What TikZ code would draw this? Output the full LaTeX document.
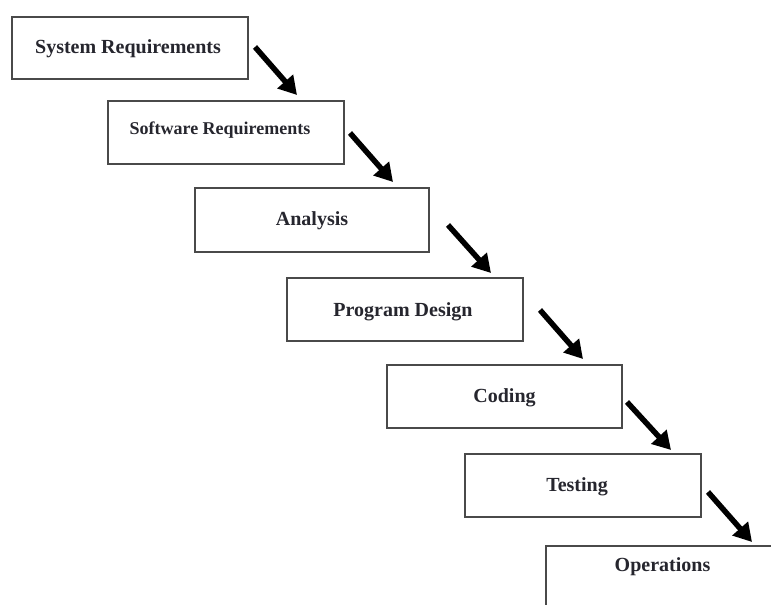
\documentclass[tikz,border=0pt]{standalone}
\usepackage{fontspec}
\setmainfont{Liberation Serif}
\usetikzlibrary{arrows.meta}

\definecolor{boxline}{HTML}{4A4A4A}
\definecolor{inkdark}{HTML}{26262E}

\tikzset{
  stagebox/.style={draw=boxline, line width=1.4pt, rectangle, inner sep=0pt, outer sep=0pt},
  stagetext/.style={inner sep=0pt, text=inkdark, font=\fontsize{20}{22}\selectfont\bfseries},
  flowarrow/.style={line width=5.5pt, -{Triangle[length=18pt,width=20pt]}, black}
}

\begin{document}
\begin{tikzpicture}[x=1pt,y=1pt]
  \fill[white] (0,0) rectangle (771,605);
  \useasboundingbox (0,0) rectangle (771,605);
  \clip (0,0) rectangle (771,605);

  % stage boxes, stepping down to the right
  \node[stagebox, minimum width=236pt, minimum height=62pt] (s1) at (130,557) {};
  \node[stagebox, minimum width=236pt, minimum height=63pt] (s2) at (226,472.5) {};
  \node[stagebox, minimum width=234pt, minimum height=64pt] (s3) at (312,385) {};
  \node[stagebox, minimum width=236pt, minimum height=63pt] (s4) at (405,295.5) {};
  \node[stagebox, minimum width=235pt, minimum height=63pt] (s5) at (504.5,208.5) {};
  \node[stagebox, minimum width=236pt, minimum height=63pt] (s6) at (583,119.5) {};
  \node[stagebox, minimum width=254pt, minimum height=63pt] (s7) at (673,27.5) {};

  % stage names
  \node[stagetext] (t1) at ([xshift=-2pt,yshift=-1pt]s1.center) {System Requirements};
  \node[stagetext, font=\fontsize{18}{20}\selectfont\bfseries] (t2) at ([xshift=-6pt,yshift=2pt]s2.center) {Software Requirements};
  \node[stagetext] (t3) at ([yshift=-1pt]s3.center) {Analysis};
  \node[stagetext] (t4) at ([xshift=-2pt,yshift=-2pt]s4.center) {Program Design};
  \node[stagetext] (t5) at ([yshift=-1pt]s5.center) {Coding};
  \node[stagetext] (t6) at ([xshift=-6pt,yshift=-1pt]s6.center) {Testing};
  \node[stagetext] (t7) at ([shift={(116.5pt,-21pt)}]s7.north west) {Operations};

  % arrow ends beside each box and above the next one
  \coordinate (a1s) at ([shift={(7pt,-30pt)}]s1.north east);
  \coordinate (a1e) at ([shift={(189pt,6pt)}]s2.north west);
  \coordinate (a2s) at ([shift={(6pt,-32pt)}]s2.north east);
  \coordinate (a2e) at ([shift={(198pt,6pt)}]s3.north west);
  \coordinate (a3s) at ([shift={(19pt,-37pt)}]s3.north east);
  \coordinate (a3e) at ([shift={(204pt,5pt)}]s4.north west);
  \coordinate (a4s) at ([shift={(17pt,-32pt)}]s4.north east);
  \coordinate (a4e) at ([shift={(196pt,6pt)}]s5.north west);
  \coordinate (a5s) at ([shift={(5pt,-37pt)}]s5.north east);
  \coordinate (a5e) at ([shift={(206pt,4pt)}]s6.north west);
  \coordinate (a6s) at ([shift={(7pt,-38pt)}]s6.north east);
  \coordinate (a6e) at ([shift={(206pt,4pt)}]s7.north west);

  \draw[flowarrow] (a1s) -- (a1e);
  \draw[flowarrow] (a2s) -- (a2e);
  \draw[flowarrow] (a3s) -- (a3e);
  \draw[flowarrow] (a4s) -- (a4e);
  \draw[flowarrow] (a5s) -- (a5e);
  \draw[flowarrow] (a6s) -- (a6e);
\end{tikzpicture}
\end{document}
